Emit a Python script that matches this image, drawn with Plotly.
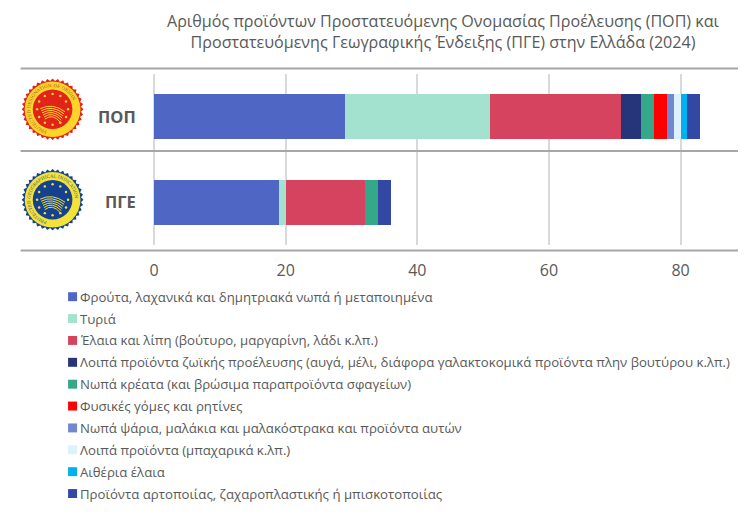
import base64
import math
import plotly.graph_objects as go

W, H = 753, 523
TITLE = "Αριθμός προϊόντων Προστατευόμενης Ονομασίας Προέλευσης (ΠΟΠ) και<br>Προστατευόμενης Γεωγραφικής Ένδειξης (ΠΓΕ) στην Ελλάδα (2024)"
categories = ["ΠΟΠ", "ΠΓΕ"]
series_names = [
    "Φρούτα, λαχανικά και δημητριακά νωπά ή μεταποιημένα",
    "Τυριά",
    "Έλαια και λίπη (βούτυρο, μαργαρίνη, λάδι κ.λπ.)",
    "Λοιπά προϊόντα ζωϊκής προέλευσης (αυγά, μέλι, διάφορα γαλακτοκομικά προϊόντα πλην βουτύρου κ.λπ.)",
    "Νωπά κρέατα (και βρώσιμα παραπροϊόντα σφαγείων)",
    "Φυσικές γόμες και ρητίνες",
    "Νωπά ψάρια, μαλάκια και μαλακόστρακα και προϊόντα αυτών",
    "Λοιπά προϊόντα (μπαχαρικά κ.λπ.)",
    "Αιθέρια έλαια",
    "Προϊόντα αρτοποιίας, ζαχαροπλαστικής ή μπισκοτοποιίας",
]
pop_values = [29, 22, 20, 3, 2, 2, 1, 1, 1, 2]
pge_values = [19, 1, 12, 0, 2, 0, 0, 0, 0, 2]
colors = ["#4F66C4", "#A2E2CF", "#D6435F", "#263479", "#36A88A",
          "#FF0000", "#7088D2", "#DDF2FD", "#00B0F0", "#3348A4"]
x_ticks = [0, 20, 40, 60, 80]

FONT = "Open Sans"
GRAY = "#595959"
L, R, T, B = 153.5, 15, 73.5, 523 - 245.5


def px(x):
    return (x - L) / (W - L - R)


def py(y):
    return 1 - (y - T) / (H - T - B)


def badge(outer, ring, center, star, label, ink):
    n = 36
    pts = []
    for i in range(n * 2):
        r = 50 if i % 2 == 0 else 46
        a = math.pi * i / n
        pts.append(f"{50 + r * math.cos(a):.2f},{50 + r * math.sin(a):.2f}")
    stars = ""
    for i in range(12):
        a = 2 * math.pi * i / 12
        cx, cy = 50 + 25 * math.cos(a), 50 + 25 * math.sin(a)
        stars += f'<circle cx="{cx:.1f}" cy="{cy:.1f}" r="2" fill="{star}"/>'
    waves = ""
    for i in range(6):
        y = 49 + i * 3.4
        waves += (f'<path d="M{30 + i * 1.5} {y} Q50 {y - 10} {70 - i * 1.5} {y + 5}" '
                  f'fill="none" stroke="{star}" stroke-width="1.6"/>')
    svg = (
        '<svg xmlns="http://www.w3.org/2000/svg" width="200" height="200" viewBox="0 0 100 100">'
        f'<polygon points="{" ".join(pts)}" fill="{outer}"/>'
        f'<circle cx="50" cy="50" r="45" fill="{ring}"/>'
        f'<circle cx="50" cy="50" r="32" fill="{center}"/>'
        '<path id="arc" d="M50 86 A36 36 0 1 1 50.01 86" fill="none"/>'
        f'<text font-family="DejaVu Serif" font-size="7" fill="{ink}">'
        f'<textPath href="#arc" startOffset="4%">{label}</textPath></text>'
        f'{stars}{waves}</svg>'
    )
    return "data:image/svg+xml;base64," + base64.b64encode(svg.encode()).decode()


fig = go.Figure()
for name, color, a, b in zip(series_names, colors, pop_values, pge_values):
    fig.add_trace(go.Bar(
        y=categories, x=[a, b], name=name, orientation="h",
        marker=dict(color=color, line=dict(width=0)), showlegend=False,
    ))

shapes = []
for y in (68, 151, 251):
    shapes.append(dict(type="line", xref="paper", yref="paper", x0=px(20), x1=px(738),
                       y0=py(y), y1=py(y), line=dict(color="#A6A6A6", width=2), layer="above"))

annotations = [dict(text=TITLE, xref="paper", yref="paper", x=px(443.5), y=py(31),
                    xanchor="center", yanchor="middle", showarrow=False, align="center",
                    font=dict(family=FONT, size=16.1, color=GRAY))]

LEG_TOP, LEG_STEP = 297.5, 22
for i, (name, color) in enumerate(zip(series_names, colors)):
    yc = LEG_TOP + i * LEG_STEP
    shapes.append(dict(type="rect", xref="paper", yref="paper",
                       x0=px(67.5), x1=px(76.5), y0=py(yc - 4.5), y1=py(yc + 4.5),
                       fillcolor=color, line=dict(width=0)))
    annotations.append(dict(text=name, xref="paper", yref="paper", x=px(77), y=py(yc),
                            xanchor="left", yanchor="middle", showarrow=False,
                            font=dict(family=FONT, size=13.2, color=GRAY)))

PX_W = 62 / (W - L - R)
PX_H = 62 / (H - T - B)
images = [
    dict(source=badge("#E2231A", "#FFD42A", "#E2231A", "#FFD42A",
                      "PROTECTED DESIGNATION OF ORIGIN", "#9A5A2A"),
         xref="paper", yref="paper",
         x=px(21), y=py(78), sizex=PX_W, sizey=PX_H, sizing="stretch",
         xanchor="left", yanchor="top", layer="above"),
    dict(source=badge("#15428F", "#F4E13A", "#15428F", "#F4E13A",
                      "PROTECTED GEOGRAPHICAL INDICATION", "#3A5A7A"),
         xref="paper", yref="paper",
         x=px(21), y=py(169), sizex=PX_W, sizey=PX_H, sizing="stretch",
         xanchor="left", yanchor="top", layer="above"),
]

fig.update_layout(
    width=W, height=H, autosize=False,
    paper_bgcolor="white", plot_bgcolor="white",
    barmode="stack", bargap=0.477,
    margin=dict(l=L, r=R, t=T, b=B, pad=0),
    shapes=shapes, annotations=annotations, images=images,
    xaxis=dict(range=[0, (W - R - L) / 6.5875], tickvals=x_ticks, showgrid=True,
               gridcolor="#D9D9D9", gridwidth=2, zeroline=True, zerolinecolor="#D9D9D9",
               zerolinewidth=2, showline=False, ticks="outside", ticklen=11,
               tickcolor="rgba(0,0,0,0)", tickfont=dict(family=FONT, size=16, color=GRAY)),
    yaxis=dict(autorange="reversed", showgrid=False, showline=False, zeroline=False,
               ticks="outside", ticklen=14, tickcolor="rgba(0,0,0,0)",
               tickmode="array", tickvals=categories,
               ticktext=[f"<b>{c}</b>" for c in categories],
               tickfont=dict(family=FONT, size=16.5, color=GRAY)),
)
fig.write_html("out.html", config=dict(displayModeBar=False),
               post_script="document.body.style.margin='0';")
